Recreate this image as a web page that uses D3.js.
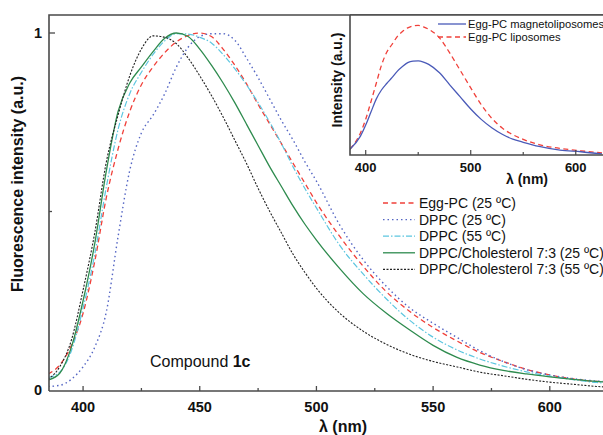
<!DOCTYPE html>
<html>
<head>
<meta charset="utf-8">
<script src="https://cdn.jsdelivr.net/npm/d3@7"></script>
<style>
  body{margin:0;background:#fff;}
  svg{font-family:"Liberation Sans",Arial,sans-serif;}
</style>
</head>
<body>
<svg id="chart" width="603" height="435"></svg>
<script>
// main plot wavelengths (nm)
const wl = [385,390,395,400,405,410,415,420,425,430,435,440,445,450,455,460,465,470,475,480,485,490,495,500,510,520,530,540,550,560,570,580,590,600,610,620,625];
const eggPC   = [0.045,0.07,0.125,0.215,0.36,0.54,0.675,0.78,0.855,0.905,0.945,0.975,0.993,1.0,0.99,0.955,0.91,0.858,0.8,0.745,0.69,0.635,0.58,0.525,0.43,0.347,0.275,0.22,0.175,0.138,0.105,0.08,0.058,0.042,0.031,0.024,0.022];
const dppc25  = [0.01,0.013,0.03,0.065,0.12,0.22,0.43,0.615,0.72,0.77,0.83,0.905,0.96,0.99,0.998,0.998,0.98,0.93,0.875,0.815,0.755,0.7,0.64,0.585,0.462,0.365,0.29,0.23,0.187,0.148,0.11,0.08,0.057,0.042,0.032,0.025,0.023];
const dppc55  = [0.035,0.05,0.11,0.23,0.38,0.57,0.73,0.83,0.89,0.94,0.978,0.998,0.997,0.988,0.972,0.94,0.9,0.855,0.805,0.75,0.69,0.625,0.565,0.51,0.405,0.325,0.255,0.195,0.148,0.113,0.087,0.067,0.051,0.039,0.029,0.021,0.019];
const chol25  = [0.028,0.047,0.12,0.25,0.41,0.615,0.78,0.86,0.905,0.948,0.985,1.0,0.99,0.955,0.91,0.86,0.805,0.745,0.685,0.625,0.57,0.515,0.465,0.42,0.34,0.27,0.215,0.168,0.125,0.092,0.07,0.055,0.045,0.037,0.03,0.024,0.022];
const chol55  = [0.03,0.065,0.14,0.28,0.44,0.64,0.77,0.88,0.955,0.992,0.988,0.97,0.93,0.88,0.825,0.765,0.7,0.635,0.565,0.5,0.44,0.38,0.33,0.285,0.215,0.165,0.128,0.1,0.08,0.065,0.05,0.04,0.03,0.022,0.016,0.01,0.008];

// inset
const insetWl = [385,395,400,405,410,415,420,425,430,435,440,445,450,455,460,470,480,490,500,510,520,530,540,550,565,585,605,625];
const lipo    = [0.044,0.17,0.275,0.41,0.55,0.69,0.79,0.85,0.91,0.95,0.978,0.993,0.997,0.985,0.967,0.903,0.785,0.651,0.517,0.387,0.283,0.207,0.157,0.12,0.08,0.051,0.032,0.017];
const magneto = [0.044,0.145,0.23,0.33,0.43,0.5,0.55,0.595,0.643,0.68,0.71,0.722,0.724,0.715,0.697,0.634,0.54,0.447,0.354,0.274,0.21,0.16,0.122,0.098,0.066,0.038,0.025,0.008];

const mainLabels = ['Egg-PC (25 ºC)','DPPC (25 ºC)','DPPC (55 ºC)','DPPC/Cholesterol 7:3 (25 ºC)','DPPC/Cholesterol 7:3 (55 ºC)'];
const insetLabels = ['Egg-PC magnetoliposomes','Egg-PC liposomes'];
const xTicks = [400,450,500,550,600];
const xMinor = [425,475,525,575];

const series = [
  {name:mainLabels[0],vals:eggPC, color:'#f0403a',dash:'5,3.5',w:1.3},
  {name:mainLabels[1],vals:dppc25,color:'#5566c4',dash:'1.5,3',w:1.4},
  {name:mainLabels[2],vals:dppc55,color:'#5cc6e0',dash:'6,2,1.5,2',w:1.2},
  {name:mainLabels[3],vals:chol25,color:'#2e8b4e',dash:null,w:1.3},
  {name:mainLabels[4],vals:chol55,color:'#222222',dash:'2,1.5',w:1.1}
];

const svg = d3.select('#chart');
const axisCol = '#4a4a4a';

// ---- main plot
const x = d3.scaleLinear().domain([385.4,622.8]).range([49,603]);
const y = d3.scaleLinear().domain([0,1]).range([390,33]);

svg.append('defs').append('clipPath').attr('id','mclip')
  .append('rect').attr('x',49).attr('y',15).attr('width',560).attr('height',376);

const line = d3.line().x((d,i)=>x(wl[i])).y(d=>y(d)).curve(d3.curveMonotoneX);
const g = svg.append('g').attr('clip-path','url(#mclip)');
series.forEach(s=>{
  g.append('path').attr('d',line(s.vals)).attr('fill','none')
    .attr('stroke',s.color).attr('stroke-width',s.w)
    .attr('stroke-dasharray',s.dash);
});

// frame
svg.append('path').attr('d','M49,391V15H610').attr('fill','none').attr('stroke',axisCol).attr('stroke-width',1.6);
svg.append('line').attr('x1',49).attr('x2',610).attr('y1',391).attr('y2',391).attr('stroke',axisCol).attr('stroke-width',1.6);

const xAxis = svg.append('g');
xAxis.selectAll('.maj').data(xTicks).enter().append('line')
  .attr('x1',d=>x(d)).attr('x2',d=>x(d)).attr('y1',391).attr('y2',386).attr('stroke',axisCol).attr('stroke-width',1.3);
xAxis.selectAll('.min').data(xMinor).enter().append('line')
  .attr('x1',d=>x(d)).attr('x2',d=>x(d)).attr('y1',391).attr('y2',388).attr('stroke',axisCol).attr('stroke-width',1.3);
xAxis.selectAll('text').data(xTicks).enter().append('text')
  .attr('x',d=>x(d)).attr('y',412).attr('text-anchor','middle')
  .attr('font-size',14.5).attr('font-weight','bold').attr('fill','#111').text(d=>d);

svg.append('line').attr('x1',49).attr('x2',55).attr('y1',y(1)).attr('y2',y(1)).attr('stroke',axisCol).attr('stroke-width',1.3);
svg.append('line').attr('x1',49).attr('x2',52).attr('y1',y(0.5)).attr('y2',y(0.5)).attr('stroke',axisCol).attr('stroke-width',1.3);
[[0,'0'],[1,'1']].forEach(([v,t])=>{
  svg.append('text').attr('x',42).attr('y',y(v)+5).attr('text-anchor','end')
    .attr('font-size',14.5).attr('font-weight','bold').attr('fill','#111').text(t);
});

svg.append('text').attr('transform','translate(23,184) rotate(-90)').attr('text-anchor','middle')
  .attr('font-size',16).attr('font-weight','bold').attr('fill','#111').text('Fluorescence intensity (a.u.)');
svg.append('text').attr('x',343).attr('y',432).attr('text-anchor','middle')
  .attr('font-size',16).attr('font-weight','bold').attr('fill','#111').text('λ (nm)');

const comp = svg.append('text').attr('x',150).attr('y',367).attr('font-size',16).attr('fill','#111');
comp.append('tspan').text('Compound ');
comp.append('tspan').attr('font-weight','bold').text('1c');

// main legend
const leg = svg.append('g');
series.forEach((s,i)=>{
  const ly = 203 + i*16.6;
  leg.append('line').attr('x1',383).attr('x2',415).attr('y1',ly).attr('y2',ly)
    .attr('stroke',s.color).attr('stroke-width',s.w).attr('stroke-dasharray',s.dash);
  leg.append('text').attr('x',419).attr('y',ly+5).attr('font-size',14).attr('fill','#111').text(s.name);
});

// ---- inset
const ix = d3.scaleLinear().domain([385.05,625.95]).range([350,603]);
const iy = d3.scaleLinear().domain([0,1]).range([155,25]);
svg.append('rect').attr('x',350).attr('y',15).attr('width',260).attr('height',140).attr('fill','#fff');
svg.append('defs').append('clipPath').attr('id','iclip')
  .append('rect').attr('x',350).attr('y',15).attr('width',260).attr('height',140);

const iline = d3.line().x((d,i)=>ix(insetWl[i])).y(d=>iy(d)).curve(d3.curveMonotoneX);
const ig = svg.append('g').attr('clip-path','url(#iclip)');
ig.append('path').attr('d',iline(lipo)).attr('fill','none').attr('stroke','#f0403a').attr('stroke-width',1.3).attr('stroke-dasharray','5,3.5');
ig.append('path').attr('d',iline(magneto)).attr('fill','none').attr('stroke','#4a5ab8').attr('stroke-width',1.3);

svg.append('path').attr('d','M350,15V155H610').attr('fill','none').attr('stroke',axisCol).attr('stroke-width',1.6);
svg.append('line').attr('x1',350).attr('x2',610).attr('y1',15).attr('y2',15).attr('stroke',axisCol).attr('stroke-width',1.6);

const iTicks = [400,500,600], iMinor = [450,550];
svg.selectAll('.itm').data(iTicks).enter().append('line')
  .attr('x1',d=>ix(d)).attr('x2',d=>ix(d)).attr('y1',155).attr('y2',150).attr('stroke',axisCol).attr('stroke-width',1.2);
svg.selectAll('.itn').data(iMinor).enter().append('line')
  .attr('x1',d=>ix(d)).attr('x2',d=>ix(d)).attr('y1',155).attr('y2',152).attr('stroke',axisCol).attr('stroke-width',1.2);
svg.selectAll('.itl').data(iTicks).enter().append('text')
  .attr('x',d=>ix(d)).attr('y',172).attr('text-anchor','middle')
  .attr('font-size',13).attr('font-weight','bold').attr('fill','#111').text(d=>d);
svg.append('text').attr('x',527).attr('y',184).attr('text-anchor','middle')
  .attr('font-size',14).attr('font-weight','bold').attr('fill','#111').text('λ (nm)');
svg.append('text').attr('transform','translate(342,80) rotate(-90)').attr('text-anchor','middle')
  .attr('font-size',14).attr('font-weight','bold').attr('fill','#111').text('Intensity (a.u.)');

const ileg = [{c:'#4a5ab8',dash:null},{c:'#f0403a',dash:'5,3.5'}];
ileg.forEach((s,i)=>{
  const ly = 24 + i*13;
  svg.append('line').attr('x1',438).attr('x2',466).attr('y1',ly).attr('y2',ly)
    .attr('stroke',s.c).attr('stroke-width',1.3).attr('stroke-dasharray',s.dash);
  svg.append('text').attr('x',468).attr('y',ly+4).attr('font-size',11.2).attr('fill','#111').text(insetLabels[i]);
});
</script>
</body>
</html>
